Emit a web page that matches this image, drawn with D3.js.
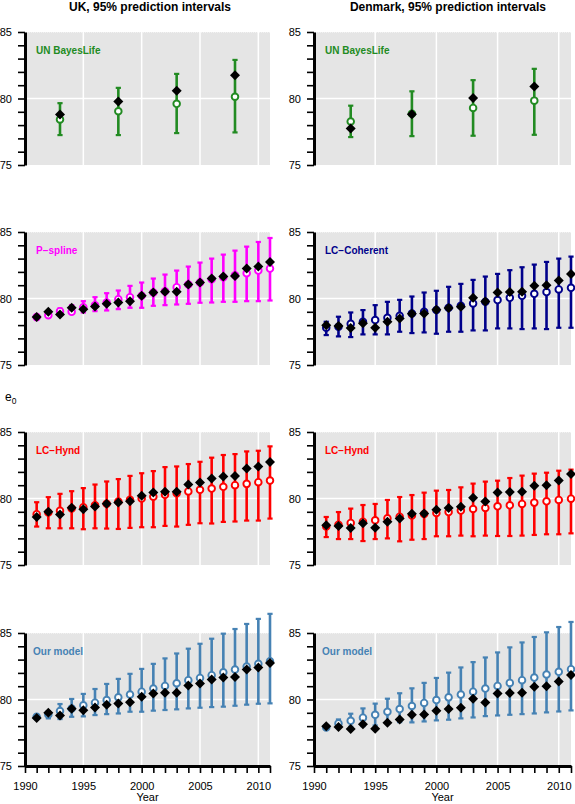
<!DOCTYPE html>
<html><head><meta charset="utf-8">
<script src="https://cdn.jsdelivr.net/npm/d3@7/dist/d3.min.js"></script>
<style>body{margin:0;background:#fff;} svg{display:block;font-family:"Liberation Sans",Arial,sans-serif;}</style>
</head><body>
<script>
// ---------- data ----------
const years = [1991,1992,1993,1994,1995,1996,1997,1998,1999,2000,2001,2002,2003,2004,2005,2006,2007,2008,2009,2010,2011];
const unYears = [1993,1998,2003,2008];
const xTickYears = [1990,1991,1992,1993,1994,1995,1996,1997,1998,1999,2000,2001,2002,2003,2004,2005,2006,2007,2008,2009,2010,2011];
const xTickLabels = [1990,1995,2000,2005,2010];
const yTicks = [75,76,77,78,79,80,81,82,83,84,85];
const yTickLabels = [75,80,85];

const ukObs = [78.6,79.0,78.8,79.3,79.2,79.4,79.6,79.7,79.8,80.2,80.45,80.5,80.5,81.05,81.2,81.5,81.65,81.7,82.25,82.4,82.75];
const dkObs = [77.98,77.93,77.78,78.13,77.8,78.25,78.5,78.85,78.88,79.15,79.28,79.38,80.05,79.78,80.45,80.48,80.5,80.95,81.0,81.35,81.85];

// UN BayesLife
const ukUNMean = [78.43,79.04,79.6,80.13];
const ukUNLo = [77.25,77.25,77.4,77.45];
const ukUNHi = [79.65,80.8,81.85,82.9];
const ukUNObs = [78.79,79.77,80.58,81.74];
const dkUNMean = [78.27,78.85,79.29,79.84];
const dkUNLo = [77.1,77.17,77.2,77.27];
const dkUNHi = [79.46,80.54,81.38,82.23];
const dkUNObs = [77.74,78.82,80.04,80.91];

// P-spline (UK)
const ukPsMean = [78.6,78.75,79.05,79.0,79.35,79.5,79.7,79.95,80.1,80.2,80.45,80.55,80.85,81.05,81.2,81.45,81.6,81.75,81.9,82.1,82.25];
const ukPsLo = [78.55,78.65,78.8,78.85,78.95,79.05,79.1,79.2,79.3,79.3,79.45,79.5,79.55,79.6,79.68,79.7,79.75,79.75,79.8,79.8,79.85];
const ukPsHi = [78.65,79.0,79.25,79.5,79.8,80.1,80.4,80.6,80.95,81.2,81.5,81.8,82.1,82.4,82.7,83.0,83.3,83.6,83.9,84.25,84.55];

// LC-Coherent (Denmark)
const dkCoMean = [77.8,77.88,78.1,78.25,78.38,78.55,78.7,78.88,79.0,79.13,79.3,79.45,79.63,79.75,79.88,80.05,80.2,80.35,80.48,80.68,80.8];
const dkCoLo = [77.25,77.15,77.1,77.3,77.3,77.3,77.5,77.4,77.45,77.35,77.5,77.5,77.6,77.6,77.75,77.75,77.7,77.75,77.7,77.8,77.8];
const dkCoHi = [78.25,78.63,78.95,79.13,79.5,79.75,79.9,80.15,80.45,80.58,80.88,81.1,81.4,81.65,81.85,82.13,82.35,82.55,82.75,83.0,83.15];

// LC-Hynd (UK)
const ukHyMean = [78.82,78.95,79.07,79.25,79.35,79.5,79.6,79.77,79.9,80.0,80.13,80.28,80.4,80.53,80.65,80.75,80.88,81.0,81.1,81.23,81.35];
const ukHyLo = [77.89,77.76,77.76,77.76,77.69,77.76,77.74,77.71,77.79,77.84,77.84,77.94,77.89,78.02,78.14,78.12,78.24,78.27,78.34,78.34,78.49];
const ukHyHi = [79.72,80.1,80.35,80.55,80.78,81.05,81.28,81.46,81.7,81.9,82.06,82.36,82.41,82.59,82.76,83.07,83.27,83.34,83.54,83.59,83.92];

// LC-Hynd (Denmark)
const dkHyMean = [77.9,78.03,78.16,78.26,78.36,78.51,78.63,78.73,78.83,78.91,78.98,79.09,79.21,79.29,79.41,79.49,79.59,79.69,79.79,79.89,79.99];
const dkHyLo = [77.1,76.95,76.95,76.8,76.95,77.0,76.78,76.9,76.95,77.16,77.16,77.21,77.16,77.21,77.18,77.18,77.21,77.26,77.31,77.31,77.38];
const dkHyHi = [78.61,78.98,79.24,79.51,79.59,79.89,80.11,80.26,80.44,80.59,80.64,80.84,81.12,81.27,81.34,81.54,81.72,81.87,81.94,82.09,82.17];

// Our model (UK)
const ukOmMean = [78.7,78.88,79.13,79.33,79.56,79.76,79.96,80.16,80.37,80.59,80.82,81.02,81.22,81.45,81.62,81.83,82.05,82.25,82.48,82.68,82.88];
const ukOmLo = [78.62,78.58,78.53,78.7,78.73,78.83,78.9,78.95,79.08,79.08,79.16,79.21,79.26,79.33,79.38,79.43,79.46,79.53,79.61,79.68,79.71];
const ukOmHi = [78.78,79.13,79.66,80.04,80.42,80.79,81.17,81.55,81.93,82.3,82.68,83.09,83.46,83.82,84.19,84.57,84.95,85.3,85.68,86.06,86.44];

// Our model (Denmark)
const dkOmMean = [77.9,78.2,78.4,78.63,78.85,79.08,79.28,79.51,79.74,79.96,80.16,80.37,80.59,80.82,81.02,81.25,81.45,81.65,81.88,82.08,82.28];
const dkOmLo = [77.85,77.87,77.95,78.0,78.05,78.2,78.3,78.28,78.35,78.43,78.48,78.58,78.65,78.75,78.8,78.85,78.9,78.95,79.03,79.1,79.18];
const dkOmHi = [77.95,78.5,78.93,79.33,79.69,80.06,80.47,80.84,81.25,81.62,82.02,82.41,82.81,83.16,83.54,83.92,84.29,84.7,85.05,85.45,85.83];

const titles = ["UK, 95% prediction intervals","Denmark, 95% prediction intervals"];

// ---------- layout ----------
const W = 575, H = 804;
const svg = d3.select("body").append("svg").attr("width",W).attr("height",H);

const cols = [{x0:25,x1:270},{x0:314,x1:571}];
const rowTops = [32,232,432,633];
const panelH = 133;

const panels = [
  {col:0,row:0,name:"UN BayesLife",color:"#228B22",x:unYears,mean:ukUNMean,lo:ukUNLo,hi:ukUNHi,obs:ukUNObs},
  {col:1,row:0,name:"UN BayesLife",color:"#228B22",x:unYears,mean:dkUNMean,lo:dkUNLo,hi:dkUNHi,obs:dkUNObs},
  {col:0,row:1,name:"P\u2212spline",color:"#FF00FF",x:years,mean:ukPsMean,lo:ukPsLo,hi:ukPsHi,obs:ukObs},
  {col:1,row:1,name:"LC\u2212Coherent",color:"#00008B",x:years,mean:dkCoMean,lo:dkCoLo,hi:dkCoHi,obs:dkObs},
  {col:0,row:2,name:"LC\u2212Hynd",color:"#FF0000",x:years,mean:ukHyMean,lo:ukHyLo,hi:ukHyHi,obs:ukObs},
  {col:1,row:2,name:"LC\u2212Hynd",color:"#FF0000",x:years,mean:dkHyMean,lo:dkHyLo,hi:dkHyHi,obs:dkObs},
  {col:0,row:3,name:"Our model",color:"#4682B4",x:years,mean:ukOmMean,lo:ukOmLo,hi:ukOmHi,obs:ukObs},
  {col:1,row:3,name:"Our model",color:"#4682B4",x:years,mean:dkOmMean,lo:dkOmLo,hi:dkOmHi,obs:dkObs}
];

const diamond = "M0,-5L5,0L0,5L-5,0Z";

panels.forEach(p=>{
  const c = cols[p.col];
  const top = rowTops[p.row];
  const x = d3.scaleLinear().domain([1990,2011]).range([c.x0,c.x1]);
  const y = d3.scaleLinear().domain([75,85]).range([top+panelH, top]);
  const g = svg.append("g");

  g.append("rect").attr("x",x(1990)).attr("y",y(85)).attr("width",x(2011)-x(1990)).attr("height",y(75)-y(85)).attr("fill","#e5e5e5");
  [1995,2000,2005,2010].forEach(v=>{
    g.append("line").attr("x1",x(v)).attr("x2",x(v)).attr("y1",y(85)).attr("y2",y(75)).attr("stroke","#fff").attr("stroke-width",1.5);
  });
  g.append("line").attr("x1",x(1990)).attr("x2",x(2011)).attr("y1",y(80)).attr("y2",y(80)).attr("stroke","#fff").attr("stroke-width",1.5);
  g.append("line").attr("x1",x(1990)).attr("x2",x(2011)).attr("y1",y(85)).attr("y2",y(85)).attr("stroke","#fff").attr("stroke-width",1).attr("stroke-dasharray","1,1");

  const ya = d3.axisLeft(y).tickValues(yTicks).tickSize(7).tickSizeOuter(0).tickPadding(6)
     .tickFormat(d=>yTickLabels.includes(d)?d:"");
  const yg = g.append("g").attr("transform",`translate(${c.x0},0)`).call(ya);
  yg.select(".domain").attr("stroke","#000").attr("stroke-width",3);
  yg.selectAll(".tick line").attr("stroke","#000").attr("stroke-width",1.6);
  yg.selectAll(".tick text").attr("font-size",11).attr("fill","#000").attr("font-family","Liberation Sans, Arial, sans-serif");

  if(p.row===3){
    const xa = d3.axisBottom(x).tickValues(xTickYears).tickSize(7).tickSizeOuter(0).tickPadding(9)
      .tickFormat(d=>xTickLabels.includes(d)?d:"");
    const xg = g.append("g").attr("transform",`translate(0,${y(75)})`).call(xa);
    xg.select(".domain").attr("stroke","#000").attr("stroke-width",3);
    xg.selectAll(".tick line").attr("stroke","#000").attr("stroke-width",1.6);
    xg.selectAll(".tick text").attr("font-size",11).attr("fill","#000").attr("font-family","Liberation Sans, Arial, sans-serif");
    g.append("text").attr("x",(x(1990)+x(2011))/2).attr("y",801).attr("text-anchor","middle")
      .attr("font-size",11).text("Year");
  }

  g.append("text").attr("x",c.x0 + (p.name==="Our model"?8:11)).attr("y",top+22)
    .attr("font-size",10).attr("font-weight","bold").attr("fill",p.color).text(p.name);

  const idx = d3.range(p.x.length);
  g.selectAll(".bar").data(idx).join("line").attr("x1",i=>x(p.x[i])).attr("x2",i=>x(p.x[i]))
    .attr("y1",i=>y(p.lo[i])).attr("y2",i=>y(p.hi[i])).attr("stroke",p.color).attr("stroke-width",2.6);
  ["lo","hi"].forEach(k=>{
    g.selectAll(".cap"+k).data(idx).join("line").attr("x1",i=>x(p.x[i])-2.6).attr("x2",i=>x(p.x[i])+2.6)
      .attr("y1",i=>y(p[k][i])).attr("y2",i=>y(p[k][i])).attr("stroke",p.color).attr("stroke-width",2.2);
  });
  g.selectAll(".pt").data(idx).join("circle").attr("cx",i=>x(p.x[i])).attr("cy",i=>y(p.mean[i]))
    .attr("r",3.3).attr("fill","#fff").attr("stroke",p.color).attr("stroke-width",1.9);
  g.selectAll(".obs").data(idx).join("path").attr("d",diamond)
    .attr("transform",i=>`translate(${x(p.x[i])},${y(p.obs[i])})`).attr("fill","#000");
});

svg.append("text").attr("x",150).attr("y",11).attr("text-anchor","middle").attr("font-size",12).attr("font-weight","bold").text(titles[0]);
svg.append("text").attr("x",448).attr("y",11).attr("text-anchor","middle").attr("font-size",12).attr("font-weight","bold").text(titles[1]);

const e0 = svg.append("text").attr("x",5).attr("y",401).attr("font-size",12);
e0.append("tspan").text("e");
e0.append("tspan").attr("font-size",8.5).attr("dy",3).text("0");
</script>
</body></html>
